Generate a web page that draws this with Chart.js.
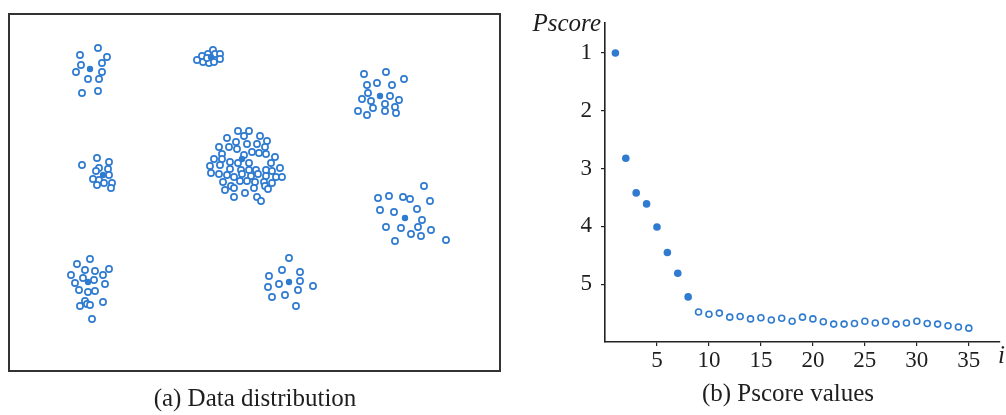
<!DOCTYPE html>
<html>
<head>
<meta charset="utf-8">
<script src="https://cdn.jsdelivr.net/npm/chart.js@4.4.1/dist/chart.umd.min.js"></script>
<style>
  html, body { margin: 0; padding: 0; background: #fff; }
  #wrap { position: relative; width: 1006px; height: 415px; overflow: hidden; }
  .cv { position: absolute; top: 0; }
  .cap { position: absolute; font-family: "Liberation Serif", "Times New Roman", serif; font-size: 25px; color: #1e1e1e; text-align: center; line-height: 30px; white-space: nowrap; }
</style>
</head>
<body>
<div id="wrap">
  <div class="cv" style="left:0;width:510px;height:415px;"><canvas id="left" width="510" height="415"></canvas></div>
  <div class="cv" style="left:510px;width:496px;height:415px;"><canvas id="right" width="496" height="415"></canvas></div>
  <div class="cap" id="capA" style="left:105px;width:300px;top:383px;"></div>
  <div class="cap" id="capB" style="left:638px;width:300px;top:378px;"></div>
</div>
<script>
// ---------- Panel (a): data distribution ----------
const captionA = "(a) Data distribution";
const captionB = "(b) Pscore values";

const centers = [[81,302],[202,314],[371,275],[94,196],[233,212],[79,89],[280,89],[396,153]];
const clusterA = [[71,316],[89,323],[98,314],[72,306],[93,308],[67,299],[93,299],[79,292],[90,292],[73,278],[89,280]];
const clusterB = [[188,311],[193,315],[194,309],[199,317],[200,308],[204,321],[205,309],[206,317],[211,317],[211,312],[198,313]];
const clusterC = [[355,297],[377,299],[395,292],[368,288],[358,286],[383,286],[359,278],[353,272],[362,270],[381,275],[390,271],[376,267],[386,264],[364,263],[349,260],[358,256],[376,260],[387,258]];
const clusterD = [[73,206],[88,213],[100,209],[90,203],[87,200],[99,202],[100,196],[84,192],[90,191],[88,186],[95,188],[103,188],[102,183]];
const clusterE = [[229,240],[240,240],[235,235],[218,233],[251,235],[258,230],[227,229],[238,227],[248,227],[210,224],[220,224],[228,222],[256,224],[243,219],[250,218],[213,217],[235,216],[205,212],[213,212],[221,209],[229,208],[240,208],[257,217],[266,214],[201,205],[211,206],[221,202],[232,201],[240,201],[247,201],[257,201],[262,208],[271,203],[263,200],[202,198],[210,197],[218,196],[233,197],[225,194],[242,195],[249,197],[257,195],[267,194],[273,194],[214,189],[231,190],[238,190],[246,189],[255,189],[263,188],[222,185],[225,183],[245,183],[256,185],[216,181],[236,178],[259,182],[248,174],[225,174],[252,170]];
const clusterF = [[81,112],[68,107],[76,101],[86,100],[100,102],[62,96],[74,93],[85,91],[94,96],[66,88],[96,87],[70,81],[79,79],[86,80],[76,70],[71,65],[78,67],[81,66],[94,69],[83,52]];
const clusterG = [[280,113],[273,101],[291,99],[260,95],[291,90],[270,87],[304,85],[259,84],[289,81],[276,76],[263,74],[287,65]];
const clusterH = [[415,185],[369,173],[380,175],[394,174],[401,172],[421,170],[371,161],[385,159],[408,162],[413,151],[377,144],[392,143],[409,144],[422,141],[402,137],[412,135],[386,130],[437,131]];

// ---------- Panel (b): Pscore values ----------
const iValues = [1,2,3,4,5,6,7,8,9,10,11,12,13,14,15,16,17,18,19,20,21,22,23,24,25,26,27,28,29,30,31,32,33,34,35];
const pscore = [1.00,2.82,3.42,3.61,4.01,4.45,4.81,5.22,5.48,5.52,5.50,5.57,5.56,5.60,5.58,5.62,5.59,5.64,5.57,5.60,5.65,5.69,5.69,5.68,5.64,5.67,5.64,5.69,5.67,5.64,5.68,5.69,5.72,5.74,5.76];
const numCenters = 8;
const xTicks = [5,10,15,20,25,30,35];
const yTicks = [1,2,3,4,5];
const yTitle = "Pscore";
const xTitle = "i";

const BLUE = '#2f7bd0';
const SERIF = '"Liberation Serif", "Times New Roman", serif';

document.getElementById('capA').textContent = captionA;
document.getElementById('capB').textContent = captionB;

const toPts = arr => arr.map(p => ({x: p[0], y: p[1]}));
const hollowAll = [].concat(clusterA, clusterB, clusterC, clusterD, clusterE, clusterF, clusterG, clusterH);

const framePlugin = {
  id: 'frame',
  afterDraw(chart) {
    const a = chart.chartArea, ctx = chart.ctx;
    ctx.save();
    ctx.strokeStyle = '#333';
    ctx.lineWidth = 2;
    ctx.strokeRect(a.left, a.top, a.right - a.left, a.bottom - a.top);
    ctx.restore();
  }
};

new Chart(document.getElementById('left'), {
  type: 'scatter',
  data: {
    datasets: [
      { label: 'centers', data: toPts(centers), pointRadius: 3.2, pointBackgroundColor: BLUE, pointBorderWidth: 0, pointBorderColor: BLUE },
      { label: 'points', data: toPts(hollowAll), pointRadius: 3.1, pointBackgroundColor: '#fff', pointBorderColor: BLUE, pointBorderWidth: 1.7 }
    ]
  },
  options: {
    responsive: false,
    animation: false,
    layout: { padding: { left: 9, top: 14, right: 10, bottom: 44 } },
    plugins: { legend: { display: false }, tooltip: { enabled: false }, title: { display: false } },
    scales: {
      x: { type: 'linear', display: false, min: 0, max: 491 },
      y: { type: 'linear', display: false, min: 0, max: 357 }
    }
  },
  plugins: [framePlugin]
});

const filledPts = iValues.slice(0, numCenters).map((v, k) => ({x: v, y: pscore[k]}));
const hollowPts = iValues.slice(numCenters).map((v, k) => ({x: v, y: pscore[k + numCenters]}));

const labelPlugin = {
  id: 'axisLabels',
  afterDraw(chart) {
    const a = chart.chartArea, ctx = chart.ctx;
    ctx.save();
    ctx.fillStyle = '#1e1e1e';
    ctx.font = 'italic 25px ' + SERIF;
    ctx.textAlign = 'right';
    ctx.textBaseline = 'alphabetic';
    ctx.fillText(yTitle, a.left - 4, a.top + 8);
    ctx.textAlign = 'left';
    ctx.fillText(xTitle, a.right - 2, a.bottom + 21);
    ctx.restore();
  }
};

new Chart(document.getElementById('right'), {
  type: 'scatter',
  data: {
    datasets: [
      { label: 'filled', data: filledPts, pointRadius: 3.8, pointBackgroundColor: BLUE, pointBorderWidth: 0 },
      { label: 'hollow', data: hollowPts, pointRadius: 3.0, pointBackgroundColor: '#fff', pointBorderColor: BLUE, pointBorderWidth: 1.6 }
    ]
  },
  options: {
    responsive: false,
    animation: false,
    layout: { padding: { left: 0, top: 23, right: 6, bottom: 0 } },
    plugins: { legend: { display: false }, tooltip: { enabled: false }, title: { display: false } },
    scales: {
      x: {
        type: 'linear', min: 0, max: 38,
        afterBuildTicks: s => { s.ticks = xTicks.map(v => ({value: v})); },
        afterFit: s => { s.height = 73; },
        grid: { display: true, drawOnChartArea: false, drawTicks: true, tickLength: 4, color: '#222', lineWidth: 1.2 },
        border: { display: true, color: '#222', width: 1.6 },
        ticks: { font: { family: SERIF, size: 23 }, color: '#1e1e1e', padding: 1, maxRotation: 0 }
      },
      y: {
        type: 'linear', reverse: true, min: 0.48, max: 6.0,
        afterBuildTicks: s => { s.ticks = yTicks.map(v => ({value: v})); },
        afterFit: s => { s.width = 95; },
        grid: { display: true, drawOnChartArea: false, drawTicks: true, tickLength: 4, color: '#222', lineWidth: 1.2 },
        border: { display: true, color: '#222', width: 1.6 },
        ticks: { font: { family: SERIF, size: 23 }, color: '#1e1e1e', padding: 9 }
      }
    }
  },
  plugins: [labelPlugin]
});
</script>
</body>
</html>
